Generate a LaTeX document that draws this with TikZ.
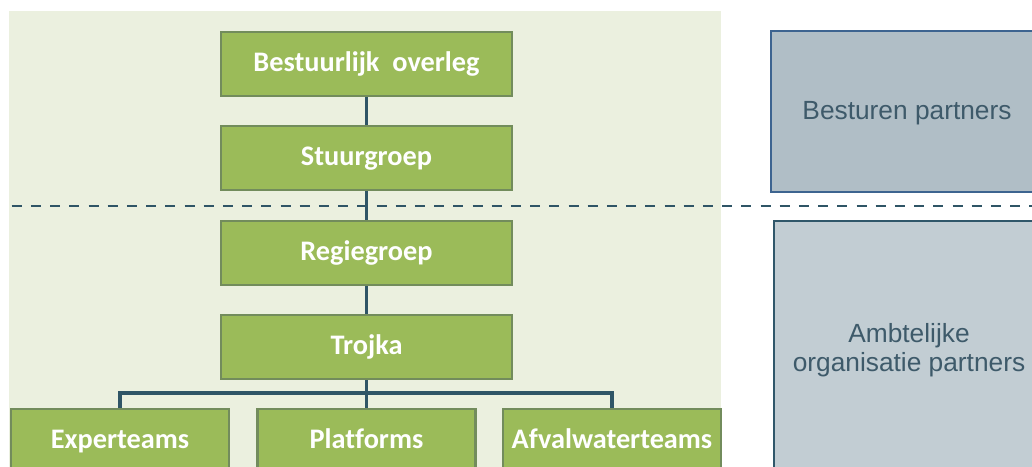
\documentclass[tikz,border=0pt]{standalone}
\usepackage{fontspec}
\setmainfont{Liberation Sans}
\newfontfamily\greenfont[Ligatures=NoCommon]{Carlito}
\definecolor{panelbg}{HTML}{EBF0DF}
\definecolor{boxgreen}{HTML}{9BBB59}
\definecolor{boxgreenedge}{HTML}{728C5C}
\definecolor{conncol}{HTML}{2F5566}
\definecolor{topfill}{HTML}{B0BEC6}
\definecolor{topedge}{HTML}{3D6490}
\definecolor{botfill}{HTML}{C2CDD3}
\definecolor{botedge}{HTML}{30576A}
\definecolor{graytext}{HTML}{3E5A6A}
\tikzset{
  gbox/.style={rectangle, fill=boxgreen, draw=boxgreenedge, line width=2.8pt,
    minimum width=291pt, minimum height=64pt, inner sep=0pt,
    text height=22pt, text depth=7pt,
    text=white, font=\greenfont\bfseries\fontsize{28.3}{31}\selectfont},
  sbox/.style={gbox, minimum width=218pt},
  conn/.style={draw=conncol, line width=3.5pt},
  dashline/.style={draw=conncol, line width=2.8pt, dash pattern=on 10pt off 9.2pt},
  partnertop/.style={rectangle, fill=topfill, draw=topedge, line width=2.2pt, inner sep=0pt},
  partnerbot/.style={rectangle, fill=botfill, draw=botedge, line width=2.6pt, inner sep=0pt},
  ptext/.style={text=graytext, font=\fontsize{26.3}{28.5}\selectfont, align=center, inner sep=0pt}
}
\begin{document}
\begin{tikzpicture}[x=1pt,y=-1pt]
\clip (0,0) rectangle (1032,466);
\fill[white] (0,0) rectangle (1032,466);
% left panel
\fill[panelbg] (9,10.5) rectangle (721,470);
% right partner boxes
\draw[partnertop] (771,31) rectangle (1045,192);
\draw[partnerbot] (774,221) rectangle (1045,480);
\node[ptext] (besturen) at (907,113) {Besturen partners};
\node[ptext] (ambtelijk) at (909,350) {Ambtelijke\\organisatie partners};
% green boxes
\node[gbox] (bo) at (366.5,64) {Bestuurlijk\ \ overleg};
\node[gbox] (sg) at (366.5,158) {Stuurgroep};
\node[gbox] (rg) at (366.5,253) {Regiegroep};
\node[gbox] (tr) at (366.5,347) {Trojka};
\node[sbox] (exp) at (120,441) {Experteams};
\node[sbox] (plat) at (366.5,441) {Platforms};
\node[sbox] (afv) at (612,441) {Afvalwaterteams};
% dashed separator
\coordinate (dl) at (11.7,206);
\coordinate (dr) at (1040,206);
\draw[dashline] (dl) -- (dr);
% connectors
\coordinate (bus) at (366.5,393);
\draw[conn] (bo.south) -- (sg.north);
\draw[conn] (sg.south) -- (rg.north);
\draw[conn] (rg.south) -- (tr.north);
\draw[conn] (tr.south) -- (plat.north);
\draw[conn] (exp.north) -- (exp.north |- bus) -- (afv.north |- bus) -- (afv.north);
\end{tikzpicture}
\end{document}
